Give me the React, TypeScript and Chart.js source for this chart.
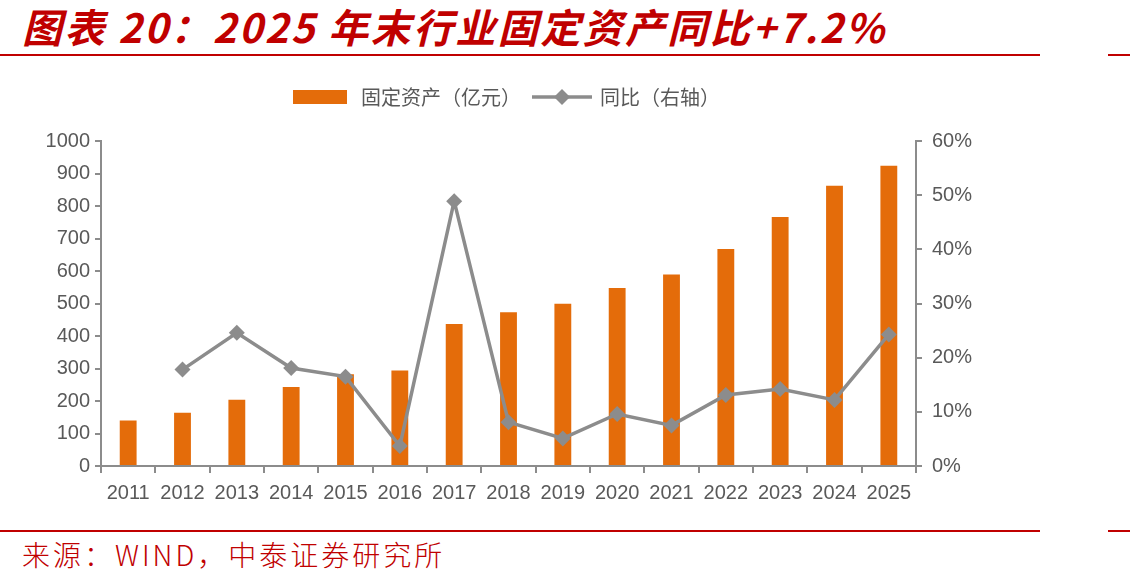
import React, { useEffect, useRef } from "react";
import { Chart, registerables } from "chart.js";

Chart.register(...registerables);

const categories = ["2011", "2012", "2013", "2014", "2015", "2016", "2017", "2018", "2019", "2020", "2021", "2022", "2023", "2024", "2025"];
const assetValues = [140, 164, 204, 243, 282, 294, 437, 473, 499, 548, 589, 668, 766, 862, 924];
const yoyValues = [null, 17.8, 24.6, 18.1, 16.5, 3.7, 48.9, 8.1, 5.1, 9.6, 7.5, 13.1, 14.2, 12.2, 24.3];
const leftTicks = [0, 100, 200, 300, 400, 500, 600, 700, 800, 900, 1000];
const rightTicks = [0, 10, 20, 30, 40, 50, 60];
const seriesNames = ["固定资产（亿元）", "同比（右轴）"];

const ORANGE = "#E46C0A";
const GRAY = "#8C8C8C";
const AXIS = "#8C8C8C";
const TEXT = "#595959";
const RED = "#C00000";

function makeBarIcon() {
  const c = document.createElement("canvas");
  c.width = 62;
  c.height = 14;
  const ctx = c.getContext("2d")!;
  ctx.fillStyle = ORANGE;
  ctx.fillRect(0, 0, 54, 14);
  return c;
}

function makeLineIcon() {
  const c = document.createElement("canvas");
  c.width = 62;
  c.height = 18;
  const ctx = c.getContext("2d")!;
  ctx.strokeStyle = GRAY;
  ctx.lineWidth = 3.5;
  ctx.beginPath();
  ctx.moveTo(0, 9);
  ctx.lineTo(60, 9);
  ctx.stroke();
  ctx.fillStyle = GRAY;
  ctx.beginPath();
  ctx.moveTo(30, 1);
  ctx.lineTo(38, 9);
  ctx.lineTo(30, 17);
  ctx.lineTo(22, 9);
  ctx.closePath();
  ctx.fill();
  return c;
}

export default function App() {
  const ref = useRef<HTMLCanvasElement | null>(null);

  useEffect(() => {
    if (!ref.current) return;
    const barIcon = makeBarIcon();
    const lineIcon = makeLineIcon();
    const legendHeightPlugin = {
      id: "legendHeight",
      beforeInit(chart: any) {
        const orig = chart.legend.fit;
        chart.legend.fit = function () {
          orig.call(this);
          this.height = 69;
        };
      },
    };
    const chart = new Chart(ref.current, {
      type: "bar",
      data: {
        labels: categories,
        datasets: [
          {
            type: "line" as const,
            label: seriesNames[1],
            data: yoyValues,
            yAxisID: "y1",
            borderColor: GRAY,
            backgroundColor: GRAY,
            borderWidth: 3.5,
            pointStyle: "rectRot",
            pointRadius: 8,
            pointBorderWidth: 0,
            pointBackgroundColor: GRAY,
            spanGaps: false,
            tension: 0,
            order: 0,
          },
          {
            type: "bar" as const,
            label: seriesNames[0],
            data: assetValues,
            yAxisID: "y",
            backgroundColor: ORANGE,
            categoryPercentage: 1,
            barPercentage: 0.31,
            order: 1,
          },
        ],
      } as any,
      options: {
        animation: false,
        responsive: false,
        maintainAspectRatio: false,
        layout: { padding: { left: 0, right: 0, top: 0, bottom: 0 } },
        plugins: {
          tooltip: { enabled: false },
          legend: {
            position: "top",
            fullSize: false,
            labels: {
              usePointStyle: true,
              pointStyleWidth: 54,
              padding: 15,
              color: TEXT,
              font: { family: "'Noto Sans CJK SC'", size: 20 },
              generateLabels: () => [
                { text: seriesNames[0], pointStyle: barIcon as any, fillStyle: ORANGE, strokeStyle: "transparent", lineWidth: 0, hidden: false, datasetIndex: 1, fontColor: TEXT },
                { text: seriesNames[1], pointStyle: lineIcon as any, fillStyle: GRAY, strokeStyle: "transparent", lineWidth: 0, hidden: false, datasetIndex: 0, fontColor: TEXT },
              ],
            },
          },
        },
        scales: {
          x: {
            offset: true,
            afterFit: (s: any) => { s.height = 44; },
            grid: { display: true, drawOnChartArea: false, drawTicks: true, tickLength: 7, color: AXIS, lineWidth: 2, offset: true },
            border: { display: true, color: AXIS, width: 2 },
            ticks: { color: TEXT, padding: 8, maxRotation: 0, autoSkip: false, font: { family: "'Liberation Sans', Arial", size: 20 } },
          },
          y: {
            position: "left",
            min: 0,
            max: 1000,
            afterFit: (s: any) => { s.width = 101; },
            afterBuildTicks: (s: any) => { s.ticks = leftTicks.map((v) => ({ value: v })); },
            grid: { display: true, drawOnChartArea: false, drawTicks: true, tickLength: 6, color: AXIS, lineWidth: 2 },
            border: { display: true, color: AXIS, width: 2 },
            ticks: { color: TEXT, padding: 5, callback: (v: any) => String(v), font: { family: "'Liberation Sans', Arial", size: 20 } },
          },
          y1: {
            position: "right",
            min: 0,
            max: 60,
            afterFit: (s: any) => { s.width = 214; },
            afterBuildTicks: (s: any) => { s.ticks = rightTicks.map((v) => ({ value: v })); },
            grid: { display: true, drawOnChartArea: false, drawTicks: true, tickLength: 6, color: AXIS, lineWidth: 2 },
            border: { display: true, color: AXIS, width: 2 },
            ticks: { color: TEXT, padding: 10, callback: (v: any) => v + "%", font: { family: "'Liberation Sans', Arial", size: 20 } },
          },
        },
      } as any,
      plugins: [legendHeightPlugin],
    });
    return () => chart.destroy();
  }, []);

  return (
    <div style={{ position: "absolute", left: 0, top: 0, width: 1130, height: 585, background: "#fff", overflow: "hidden" }}>
      <div
        style={{
          position: "absolute",
          left: 22,
          top: 1,
          whiteSpace: "nowrap",
          color: RED,
          fontFamily: "'Noto Sans CJK SC'",
          fontWeight: 700,
          fontStyle: "italic",
          fontSize: 40,
          lineHeight: "50px",
          letterSpacing: 2.4,
        }}
      >
        图表 20：2025 年末行业固定资产同比+7.2%
      </div>
      <div style={{ position: "absolute", left: 0, top: 54, width: 1040, height: 2, background: RED }} />
      <div style={{ position: "absolute", left: 1108, top: 54, width: 22, height: 2, background: RED }} />
      <canvas ref={ref} width={1130} height={438} style={{ position: "absolute", left: 0, top: 72, width: 1130, height: 438 }} />
      <div style={{ position: "absolute", left: 0, top: 530, width: 1040, height: 2, background: RED }} />
      <div style={{ position: "absolute", left: 1108, top: 530, width: 22, height: 2, background: RED }} />
      <div
        style={{
          position: "absolute",
          left: 22,
          top: 536,
          whiteSpace: "nowrap",
          color: RED,
          fontFamily: "'Noto Sans CJK SC'",
          fontWeight: 300,
          fontSize: 28,
          lineHeight: "36px",
          letterSpacing: 3,
        }}
      >
        来源：WIND，中泰证券研究所
      </div>
    </div>
  );
}
